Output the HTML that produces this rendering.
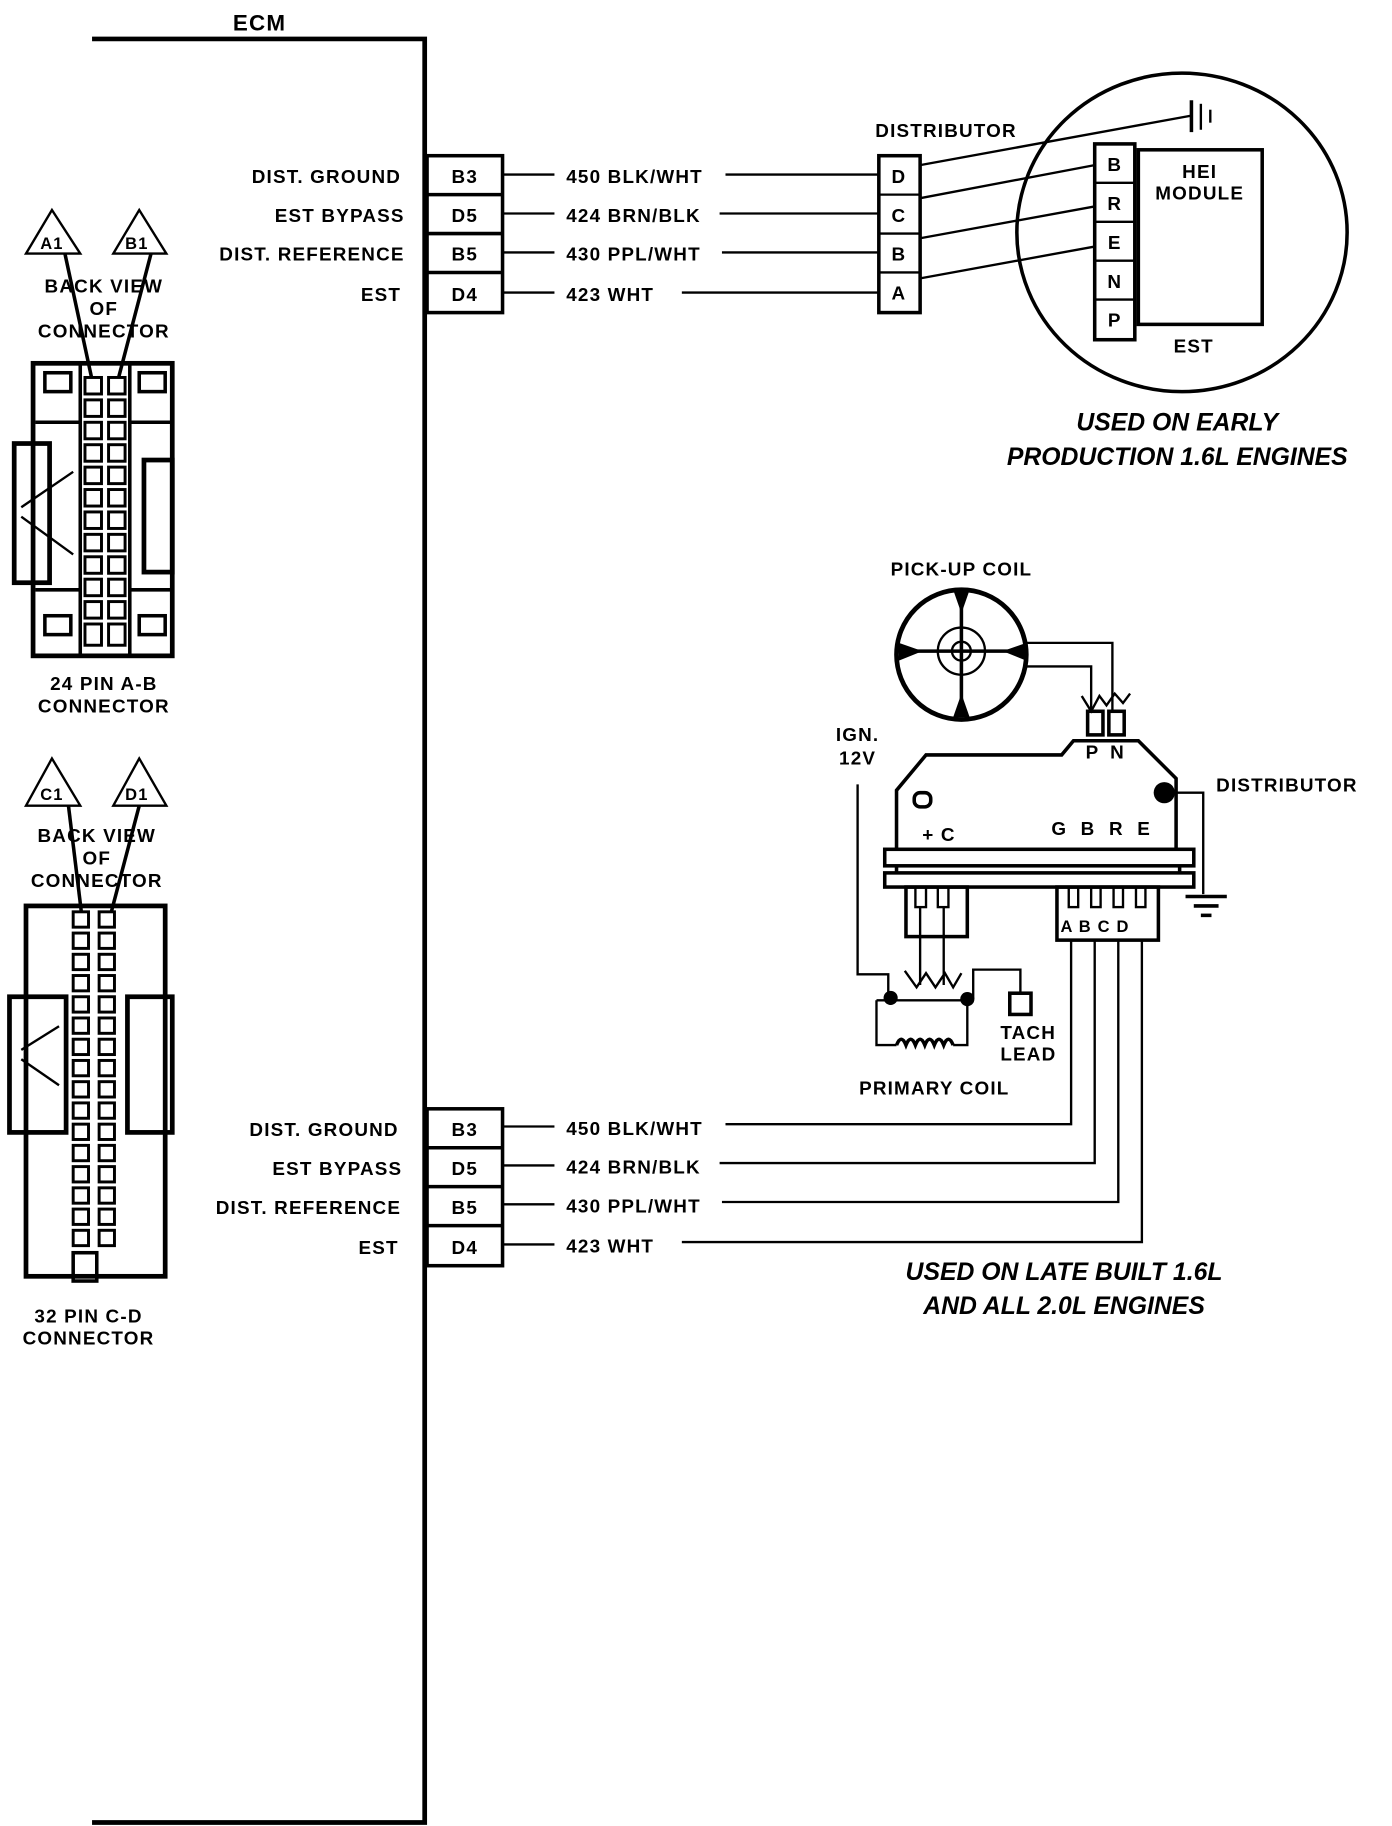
<!DOCTYPE html>
<html><head><meta charset="utf-8"><style>
html,body{margin:0;padding:0;background:#fff}
svg{display:block}
text{font-family:"Liberation Sans",sans-serif;font-weight:bold;fill:#000}
</style></head><body>
<svg width="1392" height="1826" viewBox="0 0 1180 1548" xmlns="http://www.w3.org/2000/svg">
<g stroke="#000" fill="none" stroke-width="2">
<!-- ECM -->
<polyline points="78,33 360,33 360,1545 78,1545" stroke-width="4"/>
<!-- top pins -->
<rect x="362" y="132" width="64" height="133" stroke-width="3"/>
<line x1="362" y1="165" x2="426" y2="165" stroke-width="3"/>
<line x1="362" y1="198" x2="426" y2="198" stroke-width="3"/>
<line x1="362" y1="231" x2="426" y2="231" stroke-width="3"/>
<line x1="426" y1="148" x2="470" y2="148"/><line x1="615" y1="148" x2="745" y2="148"/>
<line x1="426" y1="181" x2="470" y2="181"/><line x1="610" y1="181" x2="745" y2="181"/>
<line x1="426" y1="214" x2="470" y2="214"/><line x1="612" y1="214" x2="745" y2="214"/>
<line x1="426" y1="248" x2="470" y2="248"/><line x1="578" y1="248" x2="745" y2="248"/>
<!-- distributor box -->
<rect x="745" y="132" width="35" height="133" stroke-width="3"/>
<line x1="745" y1="165" x2="780" y2="165"/><line x1="745" y1="198" x2="780" y2="198"/><line x1="745" y1="231" x2="780" y2="231"/>
<ellipse cx="1002" cy="197" rx="140" ry="135" stroke-width="3"/>
<rect x="965" y="127" width="105" height="148" stroke-width="3"/>
<rect x="928" y="122" width="34" height="166" stroke-width="3"/>
<line x1="928" y1="155" x2="962" y2="155"/><line x1="928" y1="188" x2="962" y2="188"/><line x1="928" y1="221" x2="962" y2="221"/><line x1="928" y1="254" x2="962" y2="254"/>
<line x1="780" y1="140" x2="1010" y2="98"/>
<line x1="780" y1="168" x2="928" y2="140"/>
<line x1="780" y1="202" x2="928" y2="175"/>
<line x1="780" y1="236" x2="928" y2="209"/>
<line x1="1010" y1="85" x2="1010" y2="112" stroke-width="3"/><line x1="1018" y1="88" x2="1018" y2="110"/><line x1="1026" y1="93" x2="1026" y2="104"/>
<!-- bottom pins -->
<rect x="362" y="940" width="64" height="133" stroke-width="3"/>
<line x1="362" y1="973" x2="426" y2="973" stroke-width="3"/>
<line x1="362" y1="1006" x2="426" y2="1006" stroke-width="3"/>
<line x1="362" y1="1039" x2="426" y2="1039" stroke-width="3"/>
<line x1="426" y1="955" x2="470" y2="955"/><polyline points="615,953 908,953 908,797"/>
<line x1="426" y1="988" x2="470" y2="988"/><polyline points="610,986 928,986 928,797"/>
<line x1="426" y1="1021" x2="470" y2="1021"/><polyline points="612,1019 948,1019 948,797"/>
<line x1="426" y1="1055" x2="470" y2="1055"/><polyline points="578,1053 968,1053 968,797"/>
<!-- pickup coil -->
<circle cx="815" cy="555" r="55" stroke-width="4"/>
<circle cx="815" cy="552" r="20"/><circle cx="815" cy="552" r="8"/>
<line x1="815" y1="500" x2="815" y2="608" stroke-width="3"/><line x1="762" y1="552" x2="868" y2="552" stroke-width="3"/>
<polyline points="870,545 943,545 943,603"/>
<polyline points="870,565 925,565 925,603"/>
<polyline points="917,590 925,603 932,590 938,598 945,588 952,596 958,588"/>
<rect x="922" y="603" width="13" height="20" stroke-width="3"/><rect x="940" y="603" width="13" height="20" stroke-width="3"/>
<!-- module -->
<polyline points="760,720 760,670 785,640 900,640 910,628 965,628 997,660 997,720" stroke-width="3"/>
<rect x="750" y="720" width="262" height="14" stroke-width="3"/>
<rect x="750" y="740" width="262" height="12" stroke-width="3"/>
<line x1="760" y1="734" x2="760" y2="740" stroke-width="3"/><line x1="1000" y1="734" x2="1000" y2="740" stroke-width="3"/>
<rect x="775" y="672" width="14" height="12" rx="5" stroke-width="3"/>
<rect x="768" y="752" width="52" height="42" stroke-width="3"/>
<rect x="776" y="752" width="9" height="17"/><rect x="795" y="752" width="9" height="17"/>
<rect x="896" y="752" width="86" height="45" stroke-width="3"/>
<rect x="906" y="752" width="8" height="17"/><rect x="925" y="752" width="8" height="17"/><rect x="944" y="752" width="8" height="17"/><rect x="963" y="752" width="8" height="17"/>
<polyline points="987,672 1020,672 1020,758"/>
<line x1="1005" y1="760" x2="1040" y2="760" stroke-width="3"/><line x1="1012" y1="768" x2="1033" y2="768" stroke-width="3"/><line x1="1018" y1="776" x2="1027" y2="776" stroke-width="3"/>
<!-- primary coil -->
<polyline points="727,665 727,826 753,826 753,845"/>
<line x1="780" y1="769" x2="780" y2="835"/><line x1="800" y1="769" x2="800" y2="835"/>
<polyline points="767,823 777,837 785,825 793,837 801,825 808,837 815,825"/>
<polyline points="743,848 743,886 760,886"/>
<polyline points="820,848 820,886 808,886"/>
<path d="M760,886 q4,-10 8,0 q4,-10 8,0 q4,-10 8,0 q4,-10 8,0 q4,-10 8,0 q4,-10 8,0" stroke-width="3"/>
<line x1="743" y1="848" x2="820" y2="848"/>
<polyline points="825,847 825,822 865,822 865,842"/>
<rect x="856" y="842" width="18" height="18" stroke-width="3"/>
<!-- 24 pin connector -->
<polygon points="44,178 22,215 68,215"/><polygon points="118,178 96,215 141,215"/>
<line x1="55" y1="215" x2="78" y2="322" stroke-width="3"/><line x1="128" y1="215" x2="100" y2="322" stroke-width="3"/>
<rect x="28" y="308" width="118" height="248" stroke-width="4"/>
<rect x="12" y="376" width="30" height="118" stroke-width="4"/>
<rect x="122" y="390" width="24" height="95" stroke-width="4"/>
<line x1="68" y1="308" x2="68" y2="556" stroke-width="3"/><line x1="110" y1="308" x2="110" y2="556" stroke-width="3"/>
<rect x="38" y="316" width="22" height="16" stroke-width="3"/><rect x="118" y="316" width="22" height="16" stroke-width="3"/>
<rect x="38" y="522" width="22" height="16" stroke-width="3"/><rect x="118" y="522" width="22" height="16" stroke-width="3"/>
<line x1="30" y1="358" x2="68" y2="358" stroke-width="3"/><line x1="110" y1="358" x2="146" y2="358" stroke-width="3"/>
<line x1="30" y1="500" x2="68" y2="500" stroke-width="3"/><line x1="110" y1="500" x2="146" y2="500" stroke-width="3"/>
<line x1="18" y1="430" x2="62" y2="400"/><line x1="18" y1="438" x2="62" y2="470"/>
<!-- 32 pin connector -->
<polygon points="44,643 22,683 68,683"/><polygon points="118,643 96,683 141,683"/>
<line x1="58" y1="683" x2="70" y2="782" stroke-width="3"/><line x1="118" y1="683" x2="92" y2="782" stroke-width="3"/>
<rect x="22" y="768" width="118" height="314" stroke-width="4"/>
<rect x="8" y="845" width="48" height="115" stroke-width="4"/>
<rect x="108" y="845" width="38" height="115" stroke-width="4"/>
<line x1="18" y1="890" x2="50" y2="870"/><line x1="18" y1="898" x2="50" y2="920"/>
<rect x="62" y="1062" width="20" height="24" stroke-width="3"/>
</g>
<!-- pin grids -->
<g stroke="#000" fill="#fff" stroke-width="2.5">
<g>
<rect x="72" y="320" width="14" height="14"/><rect x="92" y="320" width="14" height="14"/>
<rect x="72" y="339" width="14" height="14"/><rect x="92" y="339" width="14" height="14"/>
<rect x="72" y="358" width="14" height="14"/><rect x="92" y="358" width="14" height="14"/>
<rect x="72" y="377" width="14" height="14"/><rect x="92" y="377" width="14" height="14"/>
<rect x="72" y="396" width="14" height="14"/><rect x="92" y="396" width="14" height="14"/>
<rect x="72" y="415" width="14" height="14"/><rect x="92" y="415" width="14" height="14"/>
<rect x="72" y="434" width="14" height="14"/><rect x="92" y="434" width="14" height="14"/>
<rect x="72" y="453" width="14" height="14"/><rect x="92" y="453" width="14" height="14"/>
<rect x="72" y="472" width="14" height="14"/><rect x="92" y="472" width="14" height="14"/>
<rect x="72" y="491" width="14" height="14"/><rect x="92" y="491" width="14" height="14"/>
<rect x="72" y="510" width="14" height="14"/><rect x="92" y="510" width="14" height="14"/>
<rect x="72" y="529" width="14" height="18"/><rect x="92" y="529" width="14" height="18"/>
</g>
<g>
<rect x="62" y="773" width="13" height="13"/><rect x="84" y="773" width="13" height="13"/>
<rect x="62" y="791" width="13" height="13"/><rect x="84" y="791" width="13" height="13"/>
<rect x="62" y="809" width="13" height="13"/><rect x="84" y="809" width="13" height="13"/>
<rect x="62" y="827" width="13" height="13"/><rect x="84" y="827" width="13" height="13"/>
<rect x="62" y="845" width="13" height="13"/><rect x="84" y="845" width="13" height="13"/>
<rect x="62" y="863" width="13" height="13"/><rect x="84" y="863" width="13" height="13"/>
<rect x="62" y="881" width="13" height="13"/><rect x="84" y="881" width="13" height="13"/>
<rect x="62" y="899" width="13" height="13"/><rect x="84" y="899" width="13" height="13"/>
<rect x="62" y="917" width="13" height="13"/><rect x="84" y="917" width="13" height="13"/>
<rect x="62" y="935" width="13" height="13"/><rect x="84" y="935" width="13" height="13"/>
<rect x="62" y="953" width="13" height="13"/><rect x="84" y="953" width="13" height="13"/>
<rect x="62" y="971" width="13" height="13"/><rect x="84" y="971" width="13" height="13"/>
<rect x="62" y="989" width="13" height="13"/><rect x="84" y="989" width="13" height="13"/>
<rect x="62" y="1007" width="13" height="13"/><rect x="84" y="1007" width="13" height="13"/>
<rect x="62" y="1025" width="13" height="13"/><rect x="84" y="1025" width="13" height="13"/>
<rect x="62" y="1043" width="13" height="13"/><rect x="84" y="1043" width="13" height="13"/>
</g>
</g>
<g fill="#000" stroke="none">
<circle cx="987" cy="672" r="9"/><circle cx="755" cy="846" r="6"/><circle cx="820" cy="847" r="6"/>
<polygon points="808,500 822,500 815,520"/><polygon points="808,608 822,608 815,588"/>
<polygon points="762,545 762,560 782,552"/><polygon points="870,545 870,560 850,552"/>
</g>
<g font-size="16" letter-spacing="1">
<text x="220" y="26" text-anchor="middle" font-size="19">ECM</text>
<g text-anchor="end">
<text x="340" y="155">DIST. GROUND</text><text x="343" y="188">EST BYPASS</text><text x="343" y="221">DIST. REFERENCE</text><text x="340" y="255">EST</text>
<text x="338" y="963">DIST. GROUND</text><text x="341" y="996">EST BYPASS</text><text x="340" y="1029">DIST. REFERENCE</text><text x="338" y="1063">EST</text>
</g>
<g text-anchor="middle">
<text x="394" y="155">B3</text><text x="394" y="188">D5</text><text x="394" y="221">B5</text><text x="394" y="255">D4</text>
<text x="394" y="963">B3</text><text x="394" y="996">D5</text><text x="394" y="1029">B5</text><text x="394" y="1063">D4</text>
<text x="762" y="155">D</text><text x="762" y="188">C</text><text x="762" y="221">B</text><text x="762" y="254">A</text>
<text x="945" y="145">B</text><text x="945" y="178">R</text><text x="945" y="211">E</text><text x="945" y="244">N</text><text x="945" y="277">P</text>
<text x="1017" y="151">HEI</text><text x="1017" y="169">MODULE</text>
<text x="1012" y="299">EST</text>
<text x="815" y="488">PICK-UP COIL</text>
<text x="938" y="643" letter-spacing="3">P N</text>
<text x="935" y="708" letter-spacing="4">G B R E</text>
<text x="796" y="713">+ C</text>
<text x="727" y="628">IGN.</text><text x="727" y="648">12V</text>
<text x="792" y="928">PRIMARY COIL</text>
<text x="88" y="585">24 PIN  A-B</text><text x="88" y="604">CONNECTOR</text>
<text x="75" y="1121">32 PIN C-D</text><text x="75" y="1140">CONNECTOR</text>
<text x="88" y="248">BACK VIEW</text><text x="88" y="267">OF</text><text x="88" y="286">CONNECTOR</text>
<text x="82" y="714">BACK VIEW</text><text x="82" y="733">OF</text><text x="82" y="752">CONNECTOR</text>
<text x="44" y="211" font-size="14">A1</text><text x="116" y="211" font-size="14">B1</text>
<text x="44" y="678" font-size="14">C1</text><text x="116" y="678" font-size="14">D1</text>
</g>
<text x="480" y="155">450  BLK/WHT</text><text x="480" y="188">424  BRN/BLK</text><text x="480" y="221">430  PPL/WHT</text><text x="480" y="255">423  WHT</text>
<text x="480" y="962">450  BLK/WHT</text><text x="480" y="995">424  BRN/BLK</text><text x="480" y="1028">430  PPL/WHT</text><text x="480" y="1062">423  WHT</text>
<text x="742" y="116">DISTRIBUTOR</text>
<text x="1031" y="671">DISTRIBUTOR</text>
<text x="848" y="881">TACH</text><text x="848" y="899">LEAD</text>
<text x="899" y="790" font-size="14">A B C D</text>
<g font-size="21" font-style="italic" text-anchor="middle" letter-spacing="0">
<text x="998" y="365">USED ON EARLY</text><text x="998" y="394">PRODUCTION 1.6L ENGINES</text>
<text x="902" y="1085">USED ON LATE BUILT 1.6L</text><text x="902" y="1114">AND ALL 2.0L ENGINES</text>
</g>
</g>
</svg>
</body></html>
